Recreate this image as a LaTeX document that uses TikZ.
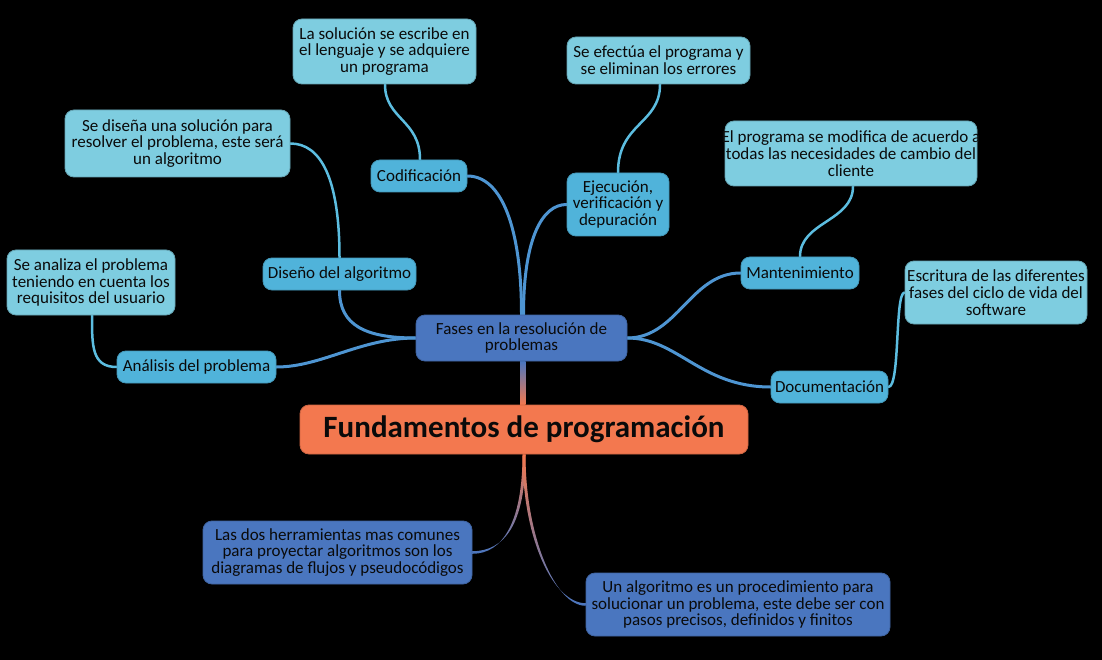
\documentclass[tikz,border=0pt]{standalone}
\usepackage{fontspec}
\setmainfont{Carlito}
\usetikzlibrary{backgrounds}
\definecolor{txt}{HTML}{0A0A0A}
\definecolor{orng}{HTML}{F3784F}
\definecolor{dblue}{HTML}{4A76BF}
\definecolor{sky}{HTML}{50B3DA}
\definecolor{leafc}{HTML}{7ECDE0}
\definecolor{conn}{HTML}{4E95D2}
\definecolor{lconn}{HTML}{5CBDE0}
\begin{document}
\begin{tikzpicture}[x=1pt,y=-1pt,
  base/.style={rounded corners=9pt, align=center, inner sep=0pt, text=txt,
    font=\fontsize{17}{16.8}\selectfont, line width=0.8pt},
  titlebox/.style={base, fill=orng, draw=orng!85!black, font=\fontsize{31}{32}\selectfont\bfseries},
  mainbox/.style={base, fill=dblue, draw=dblue!85!black},
  subbox/.style={base, fill=sky, draw=sky!85!black},
  leafbox/.style={base, fill=leafc, draw=leafc!80!black},
  subline/.style={draw=conn, line width=3pt, line cap=round},
  leafline/.style={draw=lconn, line width=2.5pt, line cap=round}
]
\useasboundingbox (0,0) rectangle (1102,660);

\node[titlebox, minimum width=448pt, minimum height=49pt] (title) at (524,429.5) {Fundamentos de programación};
\node[mainbox, minimum width=211pt, minimum height=46pt] (fases) at (521.5,338) {Fases en la resolución de\\problemas};

\node[subbox, minimum width=96pt, minimum height=32pt] (cod) at (419,176) {Codificación};
\node[subbox, minimum width=102pt, minimum height=63pt] (eje) at (618,204.5) {Ejecución,\\verificación y\\depuración};
\node[subbox, minimum width=153pt, minimum height=32pt] (dis) at (339.5,274) {Diseño del algoritmo};
\node[subbox, minimum width=159pt, minimum height=32pt] (ana) at (196.5,367) {Análisis del problema};
\node[subbox, minimum width=118pt, minimum height=32pt] (man) at (800,273) {Mantenimiento};
\node[subbox, minimum width=117pt, minimum height=32pt] (doc) at (829.5,387) {Documentación};

\node[leafbox, minimum width=183pt, minimum height=65pt] (lcod) at (384.5,51.5) {La solución se escribe en\\el lenguaje y se adquiere\\un programa};
\node[leafbox, minimum width=183pt, minimum height=47pt] (leje) at (658.5,60.5) {Se efectúa el programa y\\se eliminan los errores};
\node[leafbox, minimum width=225pt, minimum height=67pt] (ldis) at (177.5,143.5) {Se diseña una solución para\\resolver el problema, este será\\un algoritmo};
\node[leafbox, minimum width=168pt, minimum height=65pt] (lana) at (91,282.5) {Se analiza el problema\\teniendo en cuenta los\\requisitos del usuario};
\node[leafbox, minimum width=252pt, minimum height=65pt] (lman) at (851,153.5) {\makebox[236pt]{El programa se modifica de acuerdo a}\\\makebox[236pt]{todas las necesidades de cambio del}\\cliente};
\node[leafbox, minimum width=182pt, minimum height=63pt] (ldoc) at (996,292.5) {\makebox[170pt]{Escritura de las diferentes}\\fases del ciclo de vida del\\software};

\node[mainbox, minimum width=269pt, minimum height=63pt] (her) at (337.5,552.5) {Las dos herramientas mas comunes\\para proyectar algoritmos son los\\diagramas de flujos y pseudocódigos};
\node[mainbox, minimum width=304pt, minimum height=63pt] (alg) at (738,604.5) {Un algoritmo es un procedimiento para\\solucionar un problema, este debe ser con\\pasos precisos, definidos y finitos};

\begin{scope}[on background layer]
\fill[black] (0,0) rectangle (1102,660);
% main to subtopics
\draw[subline] (fases.north) .. controls +(0,-85) and +(35,0) .. (cod.east);
\draw[subline] ([xshift=2pt]fases.north) .. controls +(0,-75) and +(-25,0) .. (eje.west);
\draw[subline] (fases.west) .. controls +(-50,0) and +(0,35) .. (dis.south);
\draw[subline] (fases.west) .. controls +(-55,0) and +(45,0) .. (ana.east);
\draw[subline] (fases.east) .. controls +(50,0) and +(-50,0) .. (man.west);
\draw[subline] (fases.east) .. controls +(50,0) and +(-70,0) .. (doc.west);
% subtopics to leaves
\draw[leafline] ([xshift=1pt]cod.north) .. controls +(0,-40) and +(0,35) .. ([xshift=0.5pt]lcod.south);
\draw[leafline] (eje.north) .. controls +(0,-50) and +(0,40) .. ([xshift=1.5pt]leje.south);
\draw[leafline] (dis.north) .. controls +(0,-80) and +(30,0) .. (ldis.east);
\draw[leafline] (ana.west) .. controls +(-25,0) and +(0,30) .. ([xshift=1pt]lana.south);
\draw[leafline] (man.north) .. controls +(0,-35) and +(0,35) .. ([xshift=2pt]lman.south);
\draw[leafline] (doc.east) .. controls +(12,0) and +(-10,0) .. (ldoc.west);
% main to title
\shade[top color=dblue, bottom color=orng] ([xshift=-1.5pt]fases.south) rectangle ([xshift=1.5pt]title.north);
% title to bottom nodes
\shade[top color=orng, bottom color=dblue]
  ([xshift=-1.5pt]title.south) .. controls +(0,68) and +(30,0) .. ([yshift=-1.3pt]her.east)
  -- ([yshift=1.3pt]her.east) .. controls +(32,0) and +(0,70) .. ([xshift=1.5pt]title.south) -- cycle;
\shade[top color=orng, bottom color=dblue]
  ([xshift=-1.5pt]title.south) .. controls +(0,85) and +(-32,0) .. ([yshift=1.3pt]alg.west)
  -- ([yshift=-1.3pt]alg.west) .. controls +(-30,0) and +(0,83) .. ([xshift=1.5pt]title.south) -- cycle;
\end{scope}
\end{tikzpicture}
\end{document}
